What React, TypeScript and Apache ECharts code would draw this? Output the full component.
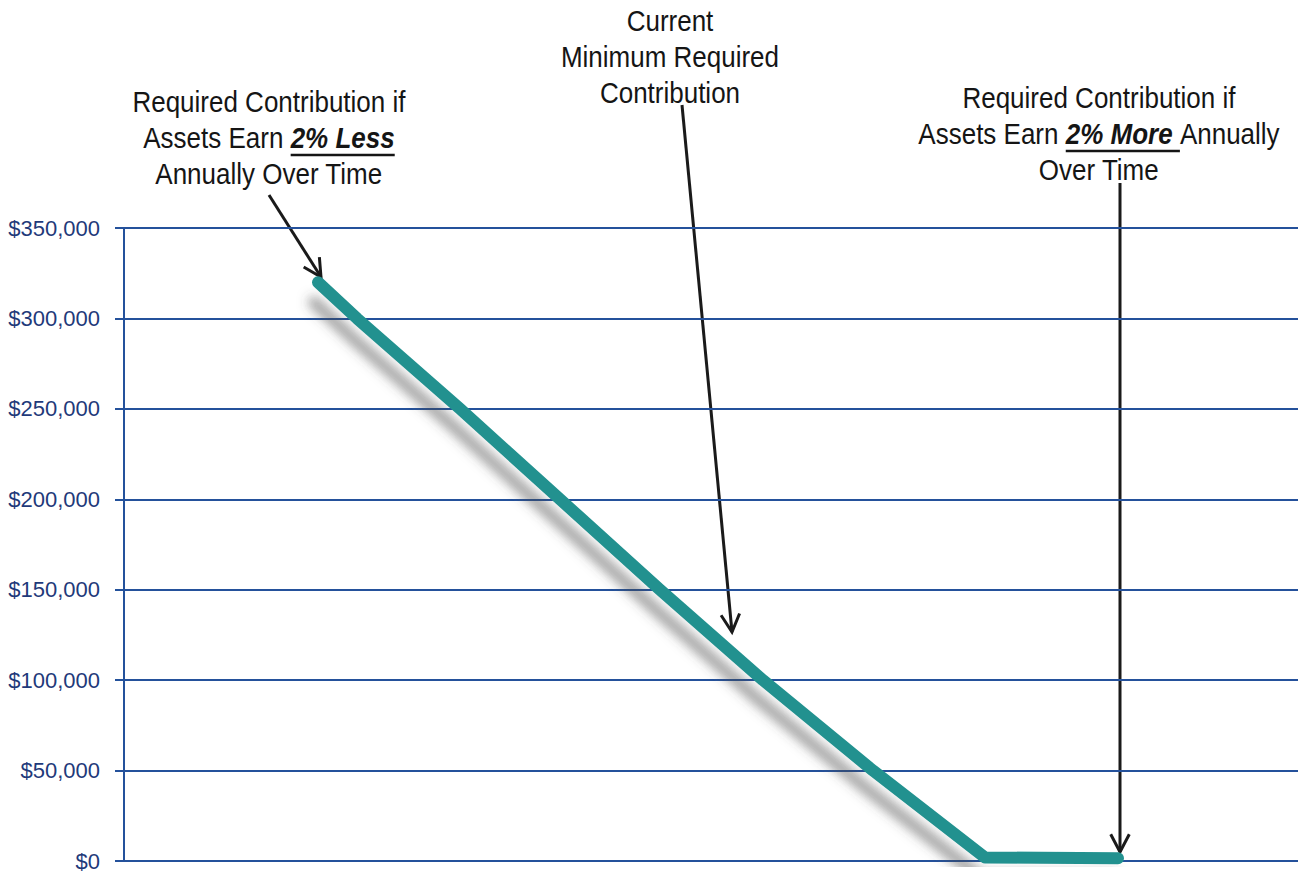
import React, { useEffect, useRef } from "react";
import * as echarts from "echarts";

// ---- data ----
// x: change in assumed annual return (percentage points), y: required contribution ($)
const returnOffsets = [-2.0, -1.805, -1.29, -0.79, -0.29, 0.225, 0.775, 1.335, 2.0];
const contributions = [320000, 300000, 250000, 200000, 150000, 100000, 50000, 2000, 1500];

const yMin = 0;
const yMax = 350000;
const yStep = 50000;

// annotation text blocks (lines of parts; emph = bold italic underlined)
type Part = { text: string; emph?: boolean };
const leftNote: Part[][] = [
  [{ text: "Required Contribution if" }],
  [{ text: "Assets Earn " }, { text: "2% Less", emph: true }],
  [{ text: "Annually Over Time" }],
];
const middleNote: Part[][] = [
  [{ text: "Current" }],
  [{ text: "Minimum Required" }],
  [{ text: "Contribution" }],
];
const rightNote: Part[][] = [
  [{ text: "Required Contribution if" }],
  [{ text: "Assets Earn " }, { text: "2% More ", emph: true }, { text: "Annually" }],
  [{ text: "Over Time" }],
];

const FONT_FAMILY = '"Liberation Sans", Arial, sans-serif';
const FONT_SIZE = 26;
const TEXT_SCALE_Y = 1.12;
const GRID_COLOR = "#24519B";
const LABEL_COLOR = "#1F3A7A";
const LINE_COLOR = "#21918F";

function measure(text: string, emph: boolean): number {
  const c = document.createElement("canvas").getContext("2d");
  if (!c) return text.length * FONT_SIZE * 0.5;
  c.font = `${emph ? "italic bold " : ""}${FONT_SIZE}px ${FONT_FAMILY}`;
  return c.measureText(text).width;
}

function textBlock(lines: Part[][], cx: number, cy0: number, lh: number): any[] {
  const out: any[] = [];
  lines.forEach((parts, i) => {
    const cy = cy0 + i * lh;
    const widths = parts.map((p) => measure(p.text, !!p.emph));
    const total = widths.reduce((a, b) => a + b, 0);
    let x = cx - total / 2;
    parts.forEach((p, j) => {
      out.push({
        type: "text",
        x,
        y: cy,
        scaleY: TEXT_SCALE_Y,
        style: {
          text: p.text,
          fontSize: FONT_SIZE,
          fontFamily: FONT_FAMILY,
          fontWeight: p.emph ? "bold" : "normal",
          fontStyle: p.emph ? "italic" : "normal",
          fill: "#151515",
          align: "left",
          textAlign: "left",
          verticalAlign: "middle",
          textVerticalAlign: "middle",
        },
      });
      if (p.emph) {
        out.push({
          type: "line",
          shape: { x1: x, y1: cy + 17, x2: x + widths[j], y2: cy + 17 },
          style: { stroke: "#151515", lineWidth: 2.5 },
        });
      }
      x += widths[j];
    });
  });
  return out;
}

function arrow(x1: number, y1: number, x2: number, y2: number): any[] {
  const ang = Math.atan2(y2 - y1, x2 - x1);
  const len = 20;
  const spread = Math.PI / 6.5;
  const a1 = ang + Math.PI - spread;
  const a2 = ang + Math.PI + spread;
  return [
    {
      type: "line",
      shape: { x1, y1, x2, y2 },
      style: { stroke: "#1a1a1a", lineWidth: 3 },
    },
    {
      type: "polyline",
      shape: {
        points: [
          [x2 + len * Math.cos(a1), y2 + len * Math.sin(a1)],
          [x2, y2],
          [x2 + len * Math.cos(a2), y2 + len * Math.sin(a2)],
        ],
      },
      style: { stroke: "#1a1a1a", lineWidth: 3, fill: "none", lineJoin: "miter" },
    },
  ];
}

export default function App() {
  const ref = useRef<HTMLDivElement>(null);

  useEffect(() => {
    if (!ref.current) return;
    const chart = echarts.init(ref.current, undefined, { renderer: "svg" });

    const lineData = returnOffsets.map((x, i) => [x, contributions[i]]);

    const graphics: any[] = [
      ...textBlock(leftNote, 269, 102, 36),
      ...textBlock(middleNote, 670, 21, 36),
      ...textBlock(rightNote, 1099, 98, 36),
      ...arrow(269, 195, 321, 277),
      ...arrow(682, 105, 732, 632),
      ...arrow(1120, 183, 1120, 852),
    ];

    chart.setOption({
      animation: false,
      backgroundColor: "#ffffff",
      grid: { left: 124, right: 6, top: 228, bottom: 13, containLabel: false },
      xAxis: {
        type: "value",
        min: -2.97,
        max: 2.9,
        show: false,
      },
      yAxis: {
        type: "value",
        min: yMin,
        max: yMax,
        interval: yStep,
        axisLine: { show: true, onZero: false, lineStyle: { color: GRID_COLOR, width: 2 } },
        axisTick: { show: true, length: 9, inside: false, lineStyle: { color: GRID_COLOR, width: 2 } },
        axisLabel: {
          color: LABEL_COLOR,
          fontSize: 22,
          fontFamily: FONT_FAMILY,
          margin: 24,
          formatter: (v: number) => "$" + v.toLocaleString("en-US"),
        },
        splitLine: { show: true, lineStyle: { color: GRID_COLOR, width: 2 } },
      },
      series: [
        {
          type: "line",
          data: lineData,
          symbol: "none",
          z: 5,
          lineStyle: {
            color: LINE_COLOR,
            width: 12,
            cap: "round",
            join: "round",
            shadowColor: "rgba(70,70,70,0.5)",
            shadowBlur: 11,
            shadowOffsetX: -4,
            shadowOffsetY: 20,
          },
        },
      ],
      graphic: graphics,
    });

    return () => chart.dispose();
  }, []);

  return (
    <div
      ref={ref}
      style={{ position: "fixed", left: 0, top: 0, width: 1304, height: 874, background: "#fff" }}
    />
  );
}
